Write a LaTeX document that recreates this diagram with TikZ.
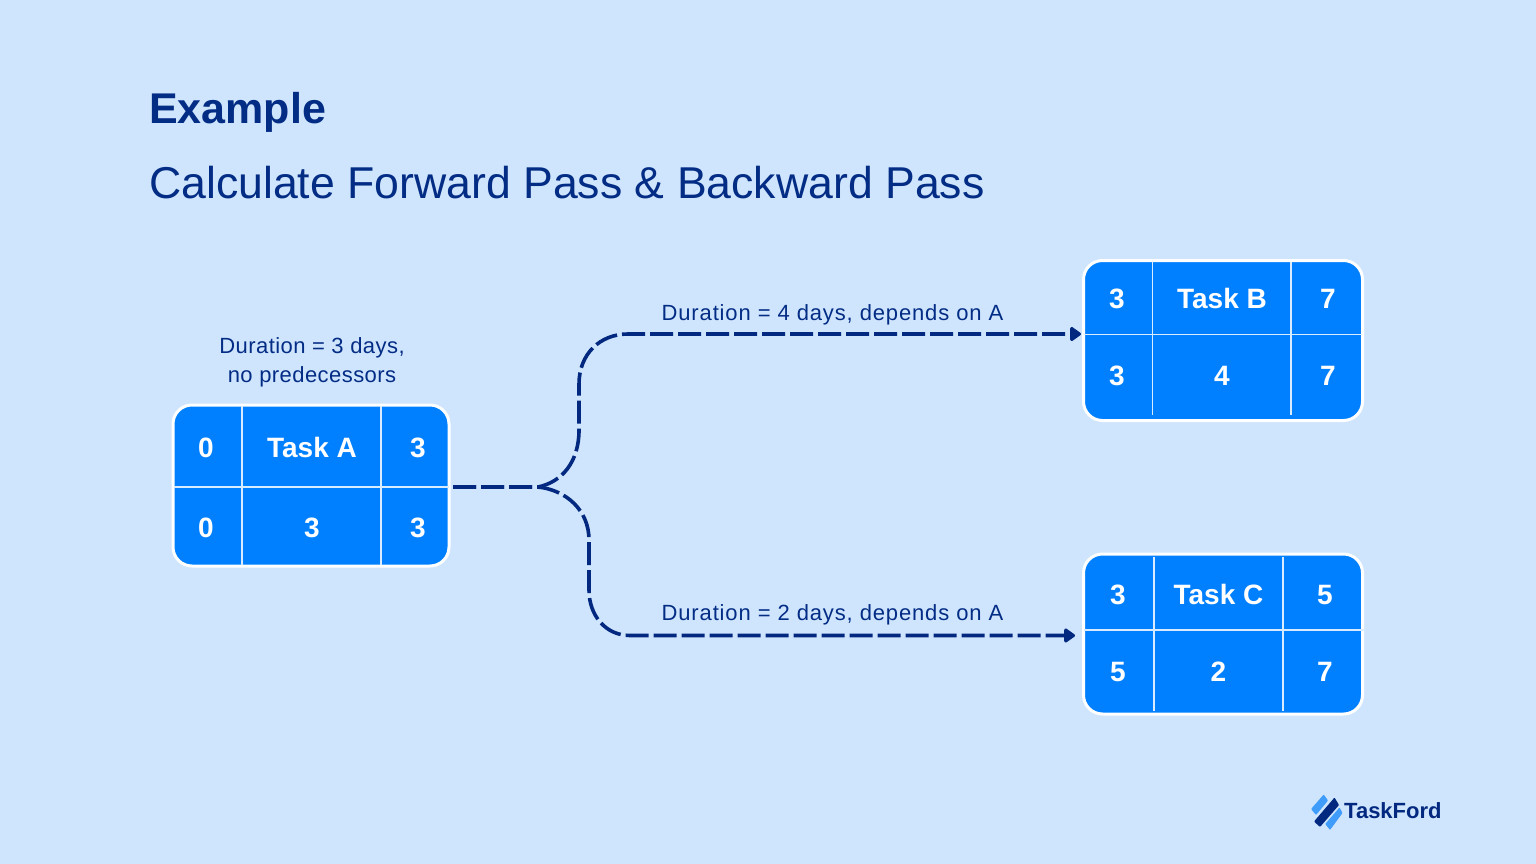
\documentclass[tikz,border=0pt]{standalone}
\usepackage{fontspec}
\setmainfont{Liberation Sans}
\newfontfamily\lsfont[LetterSpace=2.0]{Liberation Sans}
\newfontfamily\lwfont[LetterSpace=3.9]{Liberation Sans}
\usetikzlibrary{arrows.meta}
\definecolor{bgblue}{HTML}{CFE5FD}
\definecolor{cellblue}{HTML}{0080FF}
\definecolor{navy}{HTML}{03287F}
\definecolor{textnavy}{HTML}{032C85}
\definecolor{logolight}{HTML}{3F9CFB}
\newcommand{\fs}[1]{\fontsize{#1}{#1}\selectfont}
\tikzset{
  taskbox/.style={draw=white,line width=3pt,fill=cellblue,rounded corners=19pt,inner sep=0pt,outer sep=0pt},
  divider/.style={draw=white!85!cellblue,line width=1.3pt},
  cell/.style={text=white,font=\fs{28}\bfseries,anchor=base,inner sep=0pt},
  note/.style={text=textnavy,font=\lsfont\fs{22},anchor=base,inner sep=0pt},
  notewide/.style={text=textnavy,font=\lwfont\fs{22},anchor=base,inner sep=0pt},
  flow/.style={draw=navy,line width=3.6pt,dash pattern=on 23pt off 5pt,-{Triangle[length=12pt,width=16pt,round]}}
}
\begin{document}
\begin{tikzpicture}[x=1pt,y=-1pt]
\useasboundingbox[fill=bgblue] (0,0) rectangle (1536,864);
\node[anchor=base west,inner sep=0pt,text=textnavy,font=\fs{43}\bfseries] (title) at (149,124) {Example};
\node[anchor=base west,inner sep=0pt,text=textnavy,font=\fs{44.6}] (subtitle) at (149,198) {Calculate Forward Pass \& Backward Pass};
% Task A
\node[taskbox,minimum width=276pt,minimum height=161pt] (A) at (311,485.5) {};
\draw[divider] (242,406) -- (242,565) (381,406) -- (381,565) (174,487) -- (449,487);
\node[cell] (a1) at (206,457) {0};
\node[cell] (a2) at (312,457) {Task A};
\node[cell] (a3) at (418,457) {3};
\node[cell] (a4) at (206,537) {0};
\node[cell] (a5) at (312,537) {3};
\node[cell] (a6) at (418,537) {3};
\node[note] (anote1) at (312,353) {Duration = 3 days,};
\node[note] (anote2) at (312,382) {no predecessors};
% Task B
\node[taskbox,minimum width=279pt,minimum height=160pt] (B) at (1223,340.5) {};
\draw[divider] (1152.5,262) -- (1152.5,415) (1291,262) -- (1291,415) (1084,334.5) -- (1362,334.5);
\node[cell] (b1) at (1117,308) {3};
\node[cell] (b2) at (1222,308) {Task B};
\node[cell] (b3) at (1328,308) {7};
\node[cell] (b4) at (1117,385) {3};
\node[cell] (b5) at (1222,385) {4};
\node[cell] (b6) at (1328,385) {7};
% Task C
\node[taskbox,minimum width=279pt,minimum height=160pt] (C) at (1223,634) {};
\draw[divider] (1154,557) -- (1154,711) (1283,557) -- (1283,711) (1084,630) -- (1365,630);
\node[cell] (c1) at (1118,604) {3};
\node[cell] (c2) at (1218.5,604) {Task C};
\node[cell] (c3) at (1325,604) {5};
\node[cell] (c4) at (1118,681) {5};
\node[cell] (c5) at (1218.5,681) {2};
\node[cell] (c6) at (1325,681) {7};
% connectors
\coordinate (aout) at (453,487);
\coordinate (fork) at (538,487);
\coordinate (bin) at (1081,334);
\coordinate (cin) at (1075,635.5);
\draw[flow] (aout) -- (fork) .. controls (562,482) and (579,462) .. (579,430) -- (579,384) .. controls (579,354) and (600,334) .. (628,334) -- (bin);
\draw[flow] (aout) -- (fork) .. controls (566,490) and (589,510) .. (589,540) -- (589,590) .. controls (589,616) and (606,635.5) .. (630,635.5) -- (cin);
\node[notewide] (bnote) at (832.5,320) {Duration = 4 days, depends on A};
\node[notewide] (cnote) at (832.5,620) {Duration = 2 days, depends on A};
% logo
\fill[logolight,rounded corners=0.8pt] (1311,809) -- (1323.7,794.5) -- (1328,800.5) -- (1316,815) -- cycle;
\fill[logolight,rounded corners=0.8pt] (1325.2,824) -- (1339.5,807.5) -- (1342.5,813) -- (1330,830) -- cycle;
\fill[navy,rounded corners=0.8pt] (1314,821.5) -- (1334.5,797.5) -- (1339,805) -- (1320,827) -- cycle;
\node[anchor=base west,inner sep=0pt,text=navy,font=\fs{22}\bfseries] (logo) at (1344,818) {TaskFord};
\end{tikzpicture}
\end{document}
